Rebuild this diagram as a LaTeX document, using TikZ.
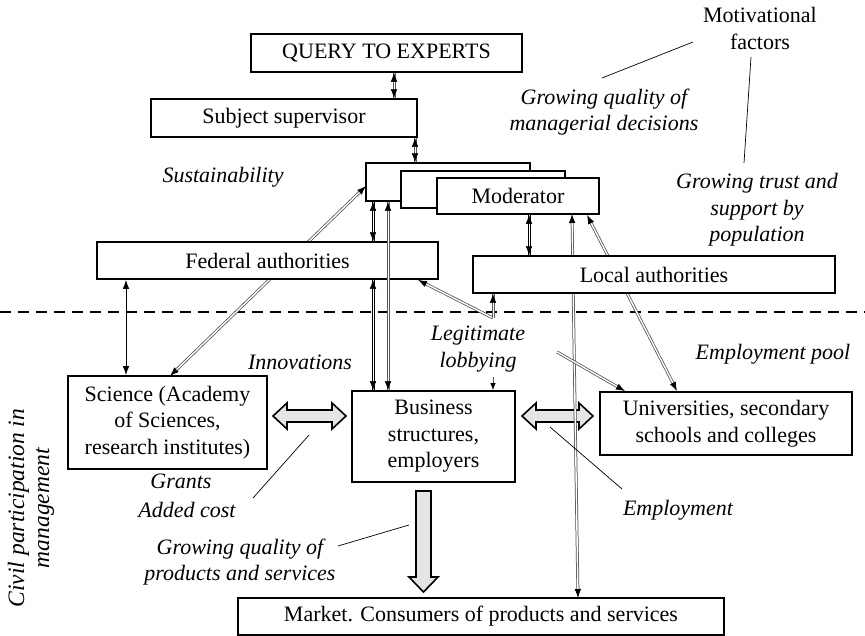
\documentclass[tikz,border=0pt]{standalone}
\usepackage{fontspec}
\setmainfont{Liberation Serif}
\usetikzlibrary{arrows.meta,calc}
\begin{document}
\begin{tikzpicture}[x=1pt,y=-1pt,
  every node/.style={font=\fontsize{22}{26.5}\selectfont, align=center, inner sep=0pt},
  box/.style={draw, line width=1.8pt, fill=white},
  lbl/.style={font=\fontsize{22}{26.5}\selectfont\itshape},
  headboth/.style={{Latex[length=9pt,width=6.5pt,color=black]}-{Latex[length=9pt,width=6.5pt,color=black]}},
  headend/.style={-{Latex[length=9pt,width=6.5pt,color=black]}},
  bi/.style={line width=0.8pt, headboth},
  % slanted double line
  gd/.style={draw=black!70, double=white, double distance=1.4pt, line width=0.75pt},
  gboth/.style={gd, headboth},
  gend/.style={gd, headend},
  % vertical double line drawn as two parallel strokes
  vd/.style={draw=white, line width=0.4pt,
    preaction={draw=#1, line width=0.75pt, arrows=-, transform canvas={xshift=-1.1pt}},
    preaction={draw=#1, line width=0.75pt, arrows=-, transform canvas={xshift=1.1pt}}},
  vgboth/.style={vd=black!65, headboth},
  vbboth/.style={vd=black, headboth},
  vgend/.style={vd=black!65, headend},
  lead/.style={line width=0.7pt},
  fat/.style={draw, line width=1.6pt, fill=black!10, line join=miter}]

\useasboundingbox (0,0) rectangle (865,636);

% dashed boundary between authorities and civil society
\draw[line width=1.6pt, dash pattern=on 11pt off 7pt] (0,312) -- (865,312);

% broad exchange arrows
\draw[fat] (273,416) -- (287,403) -- (287,410) -- (332,410) -- (332,403) -- (346,416)
  -- (332,429) -- (332,422) -- (287,422) -- (287,429) -- cycle;
\draw[fat] (522,416) -- (536,403) -- (536,410) -- (579,410) -- (579,403) -- (593,416)
  -- (579,429) -- (579,422) -- (536,422) -- (536,429) -- cycle;
\draw[fat] (416,491) -- (431,491) -- (431,577) -- (438,577) -- (423.5,592)
  -- (409,577) -- (416,577) -- cycle;

% links running behind the boxes
\coordinate (stin) at (366,186);
\draw[gboth] (170,0 |- 0,376) -- (stin);
\draw[gboth] (572,214) -- (578,598);
\draw[gboth] (587,215) -- (677,391);

% boxes
\node[box, minimum width=271pt, minimum height=38pt] (query) at (386.5,53) {QUERY TO EXPERTS};
\node[box, minimum width=266pt, minimum height=38pt] (subj) at (284,118) {Subject supervisor};
\node[box, minimum width=164pt, minimum height=38pt] (st1) at (448,182) {};
\node[box, minimum width=164pt, minimum height=37pt] (st2) at (483,189.5) {};
\node[box, minimum width=162pt, minimum height=36pt] (mod) at (518,196) {Moderator};
\node[box, minimum width=341pt, minimum height=37pt] (fed) at (267.5,260.5) {Federal authorities};
\node[box, minimum width=362pt, minimum height=37pt] (loc) at (654,274.5) {Local authorities};
\node[box, minimum width=199pt, minimum height=93pt] (sci) at (167.5,422.5)
  {Science (Academy\\of Sciences,\\research institutes)};
\node[box, minimum width=163pt, minimum height=91pt] (bus) at (433.5,436.5)
  {Business\\structures,\\employers};
\node[box, minimum width=252pt, minimum height=63pt] (uni) at (726,423.5)
  {Universities, secondary\\schools and colleges};
\node[box, minimum width=486pt, minimum height=37pt] (mkt) at (481,616.5)
  {Market. Consumers of products and services};

% links between boxes
\draw[vgboth] (394,0 |- query.south) -- (394,0 |- subj.north);
\draw[vgboth] (415,0 |- subj.south) -- (415,0 |- st1.north);
\draw[vbboth] (373,0 |- st1.south) -- (373,0 |- fed.north);
\draw[vgboth] (388,0 |- st1.south) -- (388,0 |- bus.north);
\draw[vbboth] (373,0 |- fed.south) -- (373,0 |- bus.north);
\draw[bi] (126,0 |- fed.south) -- (126,0 |- sci.north);
\draw[vbboth] (529,0 |- mod.south) -- (529,0 |- loc.north);
\coordinate (lobbyturn) at (493,318);
\draw[gend] (lobbyturn) -- (418,0 |- fed.south);
\draw[vgend] (lobbyturn) -- (493,0 |- loc.south);
\coordinate (lobbytop) at (493,377);
\draw[line width=0.7pt, draw=black!65, -{Latex[length=7pt,width=5.5pt,color=black]}] (lobbytop) -- (493,0 |- bus.north);
\coordinate (poolstart) at (557,352);
\draw[gend] (poolstart) -- (625,0 |- uni.north);

% labels
\node (motiv) at (760,28.5) {Motivational\\factors};
\node[lbl] (gqmd) at (604,112) {Growing quality of\\managerial decisions};
\node[lbl] (gtsp) at (757,210) {Growing trust and\\support by\\population};
\node[lbl] (sust) at (223,177) {Sustainability};
\node[lbl] (innov) at (300,362) {Innovations};
\node[lbl] (lobby) at (478,349) {Legitimate\\lobbying};
\node[lbl] (pool) at (773,354) {Employment pool};
\node[lbl, font=\fontsize{23.5}{25}\selectfont\itshape, rotate=90] (civil) at (31,508)
  {Civil participation in\\management};
\node[lbl] (grants) at (181,481) {Grants};
\node[lbl] (added) at (187,510) {Added cost};
\node[lbl] (gqps) at (240,562) {Growing quality of\\products and services};
\node[lbl] (empl) at (678,510) {Employment};

% leader lines
\coordinate (m1) at (693,42);
\coordinate (m2) at (602,78);
\coordinate (m3) at (751,57);
\coordinate (m4) at (744,163);
\draw[lead] (m1) -- (m2);
\draw[lead] (m3) -- (m4);
\coordinate (a1) at (253,498);
\coordinate (a2) at (309,435);
\draw[lead] (a1) -- (a2);
\coordinate (p1) at (338,546);
\coordinate (p2) at (409,525);
\draw[lead] (p1) -- (p2);
\coordinate (e1) at (622,489);
\coordinate (e2) at (550,427);
\draw[lead] (e1) -- (e2);
\end{tikzpicture}
\end{document}
